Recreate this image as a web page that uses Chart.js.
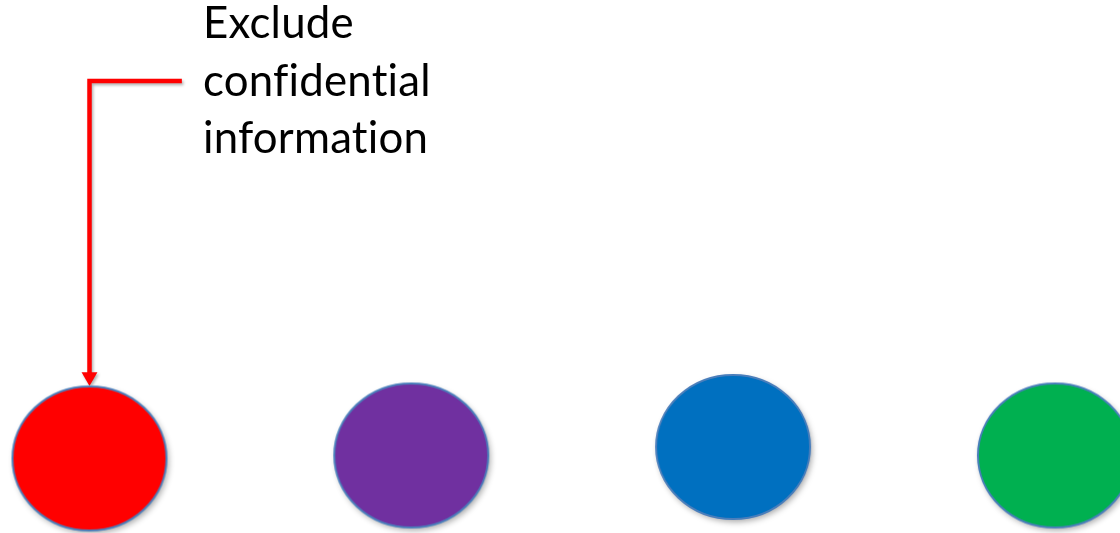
<!DOCTYPE html>
<html>
<head>
<meta charset="utf-8">
<script src="https://cdn.jsdelivr.net/npm/chart.js@4"></script>
<style>
  html, body { margin: 0; padding: 0; background: #fff; overflow: hidden; }
  #wrap { width: 1120px; height: 533px; }
</style>
</head>
<body>
<div id="wrap"><canvas id="diagram" width="1120" height="533"></canvas></div>
<script>
// Four coloured dots, the first one tagged by a callout arrow.
const dotNames = ['Red', 'Purple', 'Blue', 'Green'];
const dotColors = ['#FF0000', '#7030A0', '#0070C0', '#00B050'];
const dotX = [0, 1, 2, 3];
const dotY = [74.5, 77.5, 86, 77.5];

// callout: arrow head, corner, end of the horizontal stroke
const calloutX = [0, 0, 0.287];
const calloutY = [156.2, 452, 452];
const calloutLines = ['Exclude', 'confidential', 'information'];

(function () {
  function makeDot(color) {
    const rx = 77, ry = 72, pad = 14;
    const c = document.createElement('canvas');
    c.width = (rx + pad) * 2;
    c.height = (ry + pad) * 2;
    const g = c.getContext('2d');
    g.save();
    g.shadowColor = 'rgba(0,0,0,0.35)';
    g.shadowBlur = 6;
    g.shadowOffsetX = 2;
    g.shadowOffsetY = 3;
    g.beginPath();
    g.ellipse(c.width / 2, c.height / 2, rx, ry, 0, 0, Math.PI * 2);
    g.fillStyle = color;
    g.fill();
    g.restore();
    g.beginPath();
    g.ellipse(c.width / 2, c.height / 2, rx, ry, 0, 0, Math.PI * 2);
    g.lineWidth = 2;
    g.strokeStyle = '#4A7EBB';
    g.stroke();
    return c;
  }

  const shadowPlugin = {
    id: 'lineShadow',
    beforeDatasetDraw(chart, args) {
      if (args.index !== 1) return;
      const ctx = chart.ctx;
      ctx.save();
      ctx.shadowColor = 'rgba(0,0,0,0.3)';
      ctx.shadowBlur = 3;
      ctx.shadowOffsetX = 1.5;
      ctx.shadowOffsetY = 2;
    },
    afterDatasetDraw(chart, args) {
      if (args.index !== 1) return;
      chart.ctx.restore();
    },
  };

  const textPlugin = {
    id: 'calloutText',
    afterDraw(chart) {
      const ctx = chart.ctx;
      const family = 'Lato, "Open Sans", sans-serif';
      ctx.save();
      ctx.letterSpacing = '0.2px'; // keeps "fi" from turning into a ligature
      ctx.font = '40px ' + family;
      const w = ctx.measureText('confidential').width;
      const size = 40 * 228 / w;
      ctx.font = size.toFixed(2) + 'px ' + family;
      ctx.fillStyle = '#000';
      ctx.textBaseline = 'alphabetic';
      ctx.textAlign = 'left';
      const baselines = [38, 96, 153];
      calloutLines.forEach((t, i) => ctx.fillText(t, 203, baselines[i]));
      ctx.restore();
    },
  };

  const dots = dotX.map((x, i) => ({ x, y: dotY[i], name: dotNames[i] }));
  const callout = calloutX.map((x, i) => ({ x, y: calloutY[i] }));

  new Chart(document.getElementById('diagram').getContext('2d'), {
    type: 'scatter',
    data: {
      datasets: [
        {
          label: 'Dots',
          data: dots,
          pointStyle: dotColors.map(makeDot),
          pointRadius: 20,
          clip: false,
        },
        {
          label: 'Callout',
          type: 'line',
          data: callout,
          borderColor: '#FF0000',
          borderWidth: 4.5,
          borderJoinStyle: 'miter',
          borderCapStyle: 'butt',
          tension: 0,
          pointStyle: 'triangle',
          rotation: 180,
          pointRadius: [9.2, 0, 0],
          pointBorderWidth: 0,
          pointBackgroundColor: '#FF0000',
          pointBorderColor: '#FF0000',
          clip: false,
        },
      ],
    },
    options: {
      responsive: false,
      animation: false,
      layout: { padding: 0, autoPadding: false },
      plugins: { legend: { display: false }, tooltip: { enabled: false } },
      scales: {
        x: { type: 'linear', display: false, min: -89.5 / 321.8, max: (1120 - 89.5) / 321.8 },
        y: { type: 'linear', display: false, min: 0, max: 533 },
      },
    },
    plugins: [shadowPlugin, textPlugin],
  });
})();
</script>
</body>
</html>
